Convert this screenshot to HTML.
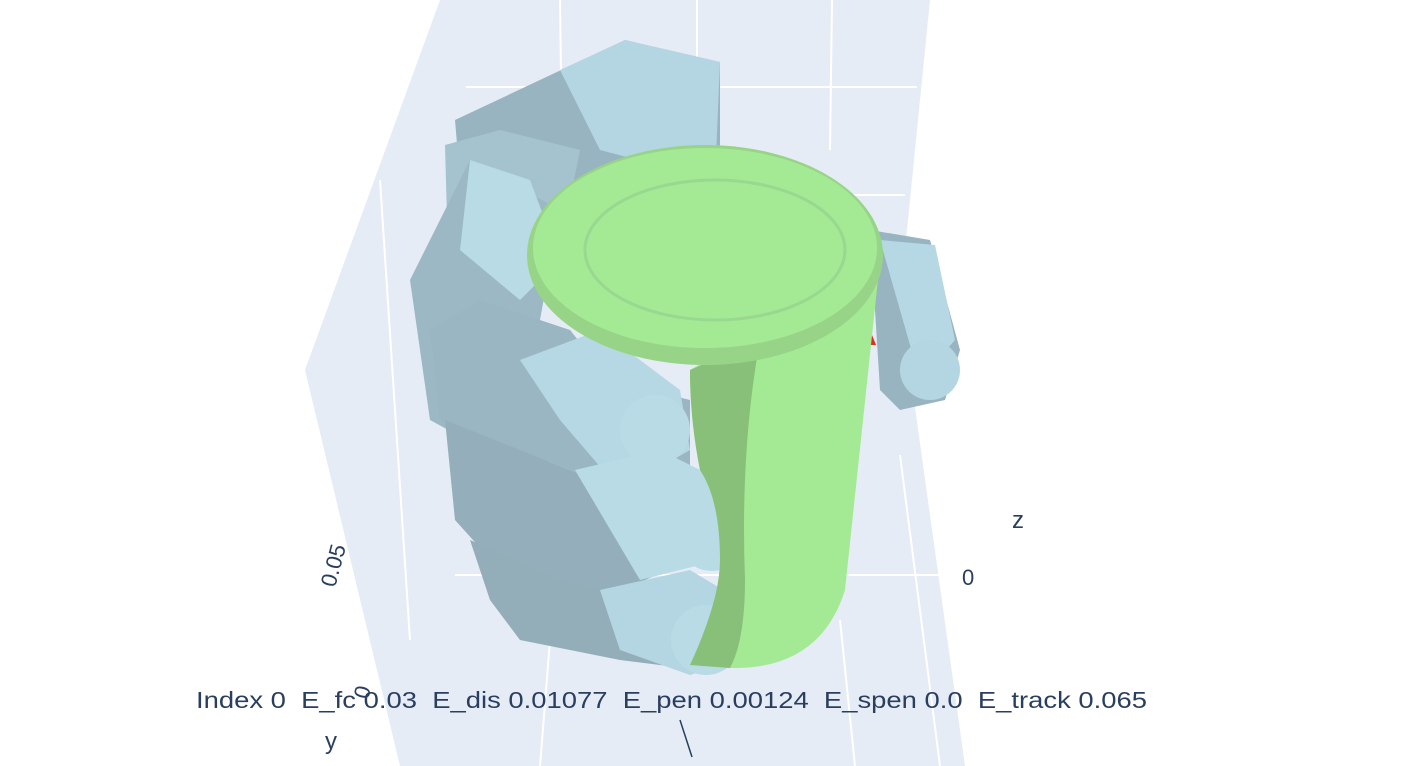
<!DOCTYPE html>
<html><head><meta charset="utf-8"><style>
body{margin:0;background:#fff;width:1414px;height:766px;overflow:hidden;font-family:"Liberation Sans",sans-serif}
svg{display:block}
text{fill:#2a3f5f;font-family:"Liberation Sans",sans-serif}
</style></head><body>
<svg width="1414" height="766">
<g>
<polygon points="440,0 930,0 900,300 965,766 400,766 305,370" fill="#e5ecf6"/>
</g>
<g stroke="#fff" stroke-width="2" fill="none">
<line x1="560" y1="0" x2="562" y2="150"/>
<line x1="697" y1="0" x2="697" y2="150"/>
<line x1="832" y1="0" x2="830" y2="150"/>
<line x1="466" y1="87" x2="917" y2="87"/>
<line x1="380" y1="180" x2="410" y2="640"/>
<line x1="340" y1="520" x2="385" y2="766"/>
<line x1="455" y1="575" x2="950" y2="575"/>
<line x1="550" y1="640" x2="540" y2="766"/>
<line x1="840" y1="620" x2="855" y2="766"/>
<line x1="900" y1="455" x2="940" y2="766"/>
<line x1="850" y1="195" x2="905" y2="195"/>
</g>
<g>
<polygon points="455,120 625,40 720,62 720,200 600,230 470,300" fill="#98b4c0"/>
<polygon points="560,70 625,40 720,62 715,180 600,150" fill="#b4d6e2"/>
<polygon points="445,145 500,130 580,150 560,250 450,330" fill="#a5c3cf"/>
<polygon points="410,280 470,160 560,210 540,320 580,400 540,480 430,420" fill="#9cb8c4"/>
<polygon points="470,160 530,180 560,260 520,300 460,250" fill="#b8dbe6"/>
<polygon points="430,330 480,300 570,330 610,380 690,400 690,470 620,490 520,450 440,420" fill="#9ab6c2"/>
<polygon points="520,360 600,330 680,390 690,450 620,490 560,420" fill="#b6d8e4"/>
<polygon points="445,420 520,450 620,490 690,500 690,560 600,600 500,570 455,520" fill="#94afbb"/>
<polygon points="575,470 660,450 720,480 720,560 640,580" fill="#b8dbe6"/>
<polygon points="470,540 560,580 640,600 700,610 700,670 620,660 520,640 490,600" fill="#93adb9"/>
<polygon points="600,590 690,570 740,600 740,660 690,675 620,650" fill="#b4d6e2"/>
<circle cx="655" cy="430" r="35" fill="#b8dbe6"/>
<circle cx="712" cy="535" r="36" fill="#b8dbe6"/>
<circle cx="706" cy="640" r="35" fill="#b8dbe6"/>
<polygon points="870,230 930,240 960,350 945,400 900,410 880,390" fill="#98b4c0"/>
<polygon points="880,240 935,245 955,340 920,380" fill="#b6d8e4"/>
<circle cx="930" cy="370" r="30" fill="#b4d6e2"/>
<polygon points="870,330 876,345 870,345" fill="#e03020"/>
</g>
<g>
<path d="M690,370 L880,260 L845,590 Q820,670 730,668 L690,665 Q720,600 720,560 Q720,500 700,470 Q690,420 690,370 Z" fill="#a4ea94"/>
<path d="M690,370 L760,340 Q740,450 745,580 Q745,640 730,668 L690,665 Q720,600 720,560 Q720,500 700,470 Q690,420 690,370 Z" fill="#88c07a"/>
<ellipse cx="705" cy="255" rx="178" ry="110" fill="#98d488"/>
<ellipse cx="705" cy="248" rx="172" ry="100" fill="#a4ea94"/>
<ellipse cx="715" cy="250" rx="130" ry="70" fill="none" stroke="#98d890" stroke-width="3"/>
</g>
<g>
<text x="1012" y="528" font-size="24">z</text>
<text x="962" y="585" font-size="22">0</text>
<text x="0" y="0" font-size="22" transform="translate(335,588) rotate(-75)">0.05</text>
<text x="0" y="0" font-size="22" transform="translate(368,700) rotate(-75)">0</text>
<text x="325" y="749" font-size="24">y</text>
<line x1="680" y1="720" x2="692" y2="757" stroke="#2a3f5f" stroke-width="1.5"/>
</g>
<text x="196" y="708" font-size="23" textLength="951" lengthAdjust="spacingAndGlyphs" xml:space="preserve">Index 0  E_fc 0.03  E_dis 0.01077  E_pen 0.00124  E_spen 0.0  E_track 0.065</text>
</svg>
</body></html>
